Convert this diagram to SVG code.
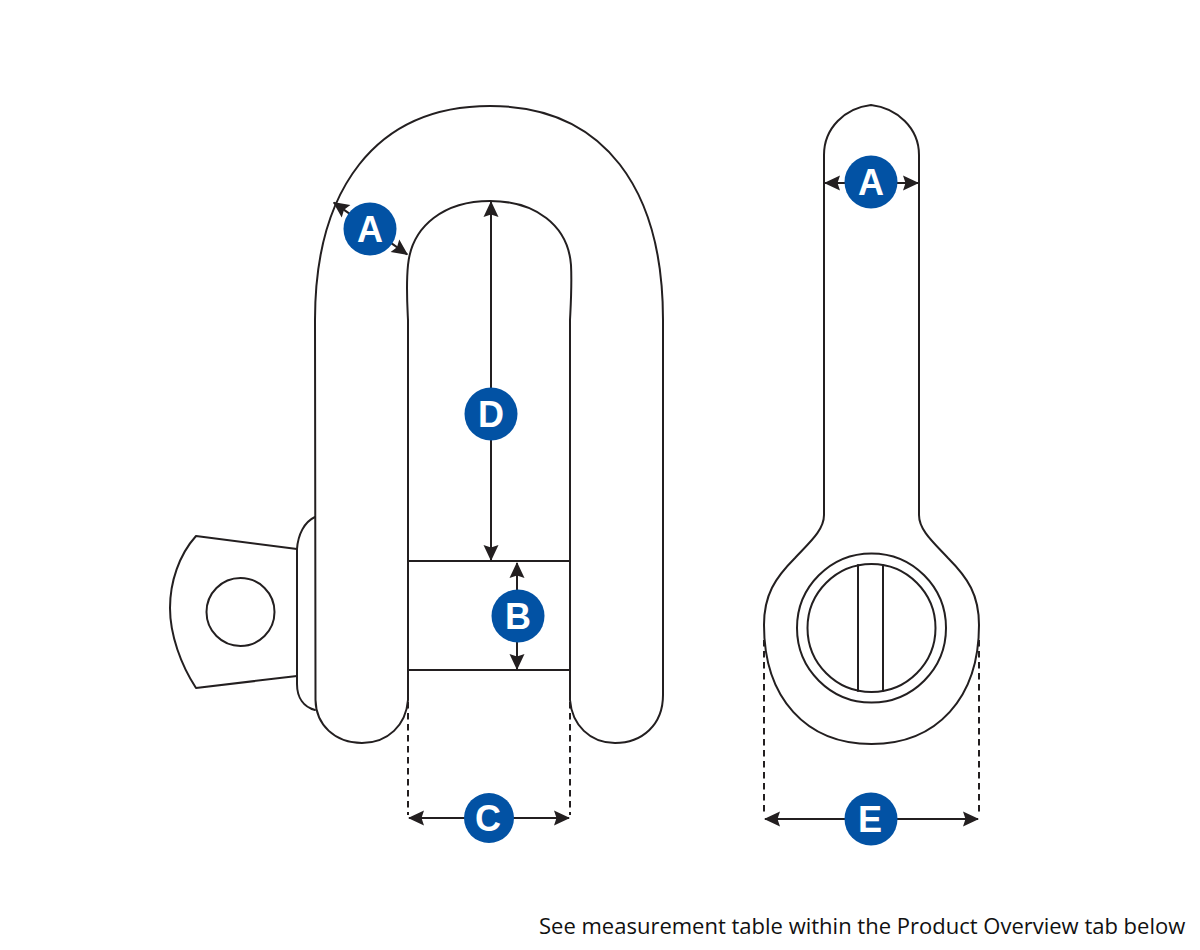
<svg xmlns="http://www.w3.org/2000/svg" width="1200" height="950" viewBox="0 0 1200 950">
<defs>
<marker id="head" markerUnits="userSpaceOnUse" markerWidth="18" markerHeight="18" viewBox="0 -9 18 18" refX="15" refY="0" orient="auto-start-reverse" overflow="visible">
<path fill="#231f20" d="M0 -7.500L16 0L0 7.500L2.500 0Z"/>
</marker>
</defs>
<style>
.o{fill:none;stroke:#231f20;stroke-width:2;stroke-linejoin:round;stroke-linecap:round}
.d{fill:none;stroke:#231f20;stroke-width:2;stroke-dasharray:6.500 4.500}
.a{fill:none;stroke:#231f20;stroke-width:2;marker-start:url(#head);marker-end:url(#head)}
.b{fill:#0252a4}
.l{fill:#fff;font:700 36px "Liberation Sans",Arial,sans-serif;text-anchor:middle}
.n{fill:#111;font:22px "Open Sans","Liberation Sans",sans-serif}
</style>
<rect width="1200" height="950" fill="#fff"/>
<g id="shackle-front">
<path class="o" d="M297 549C298 535 304 522 315 517M297 549V684C297 698 304 707 315 710"/>
<path class="o" d="M297 549L196 536C179 555 170 582 170 608C170 635 181 665 196 688L297 676"/>
<circle class="o" cx="240.500" cy="612" r="34"/>
<path class="o" d="M408 700V320C407 300 406 285 408 265C412 225 445 201 490 201C535 201 568 225 571 265C572 285 571 300 570 320V700C572 725 590 743 615 743C642 743 663 725 663 695V320C663 190 605 106 490 106C375 106 315 190 315 320L315.500 700C316 725 335 743 362 743C388 743 406 725 408 700Z"/>
<path class="o" d="M408 561H570M408 670H570"/>
</g>
<g id="shackle-side">
<path class="o" d="M824 515V155C824 128 845 108 871 105C897 108 919 128 919 155V515C919 530 933 542 948 558C968 578 979 595 979 625C979 698 937 744 871.500 744C806 744 764 698 764 625C764 595 775 578 795 558C810 542 824 530 824 515Z"/>
<circle class="o" cx="871.500" cy="628" r="74.500"/>
<circle class="o" cx="871.500" cy="628" r="64"/>
<path class="o" d="M858 565V691M883 565V691"/>
</g>
<g id="connectors">
<path class="d" d="M408 702V815M570 702V815M764 640V816M979 640V816"/>
<path class="a" d="M333.800 202.600L407.200 254.400"/>
<path class="a" d="M491 202V560"/>
<path class="a" d="M517 563V669"/>
<path class="a" d="M409 818H569"/>
<path class="a" d="M765 819H978"/>
<path class="a" d="M825 183H918"/>
</g>
<g id="badge-a1"><circle class="b" cx="370" cy="229" r="26.500"/><text class="l" x="370" y="242">A</text></g>
<g id="badge-d"><circle class="b" cx="491" cy="414" r="26.500"/><text class="l" x="491" y="427">D</text></g>
<g id="badge-b"><circle class="b" cx="518" cy="616" r="26.500"/><text class="l" x="518" y="629">B</text></g>
<g id="badge-c"><circle class="b" cx="489" cy="818" r="25"/><text class="l" x="488" y="831">C</text></g>
<g id="badge-a2"><circle class="b" cx="871" cy="182" r="26.500"/><text class="l" x="871" y="195">A</text></g>
<g id="badge-e"><circle class="b" cx="871" cy="819" r="26.500"/><text class="l" x="870" y="832">E</text></g>
<text class="n" x="539" y="934">See measurement table within the Product Overview tab below</text>
</svg>
